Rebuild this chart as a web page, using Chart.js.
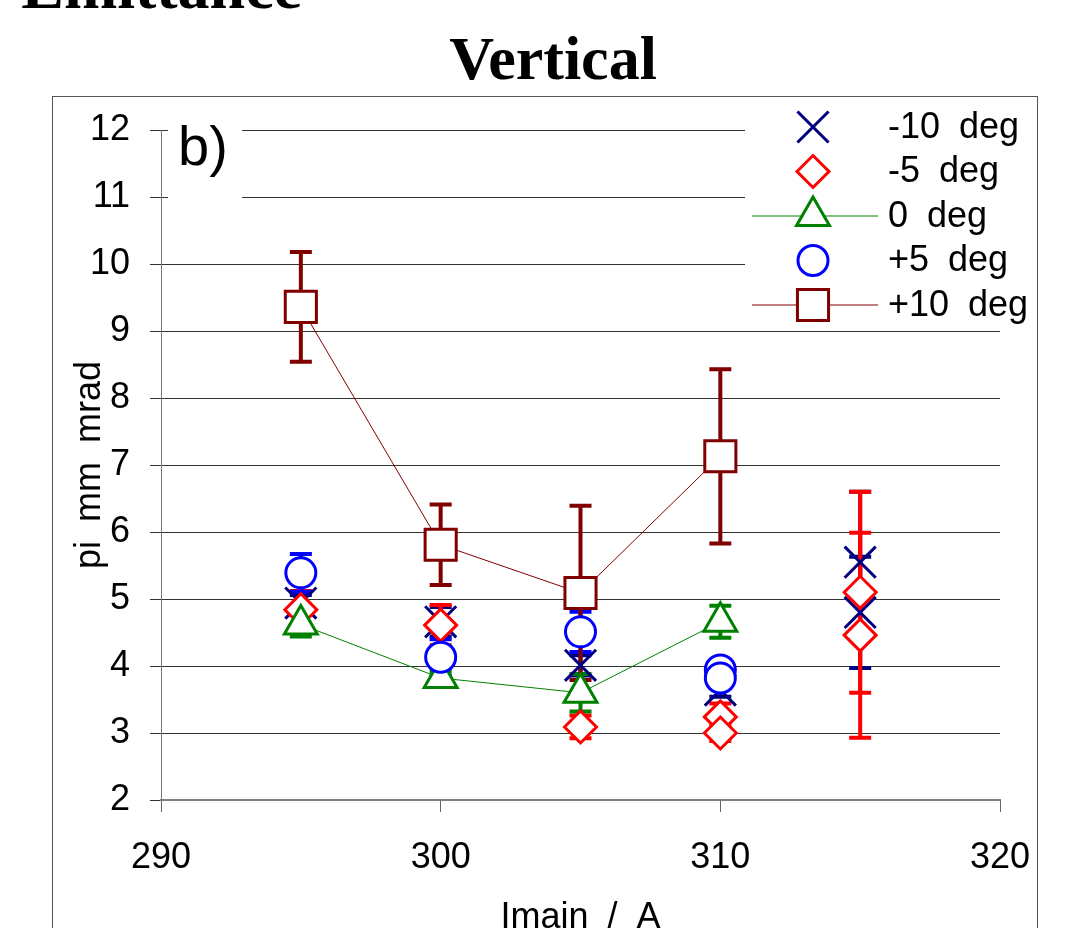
<!DOCTYPE html>
<html>
<head>
<meta charset="utf-8">
<title>Vertical</title>
<script src="https://cdn.jsdelivr.net/npm/chart.js@4.4.1/dist/chart.umd.min.js"></script>
<style>
  html, body { margin: 0; padding: 0; background: #fff; }
  #wrap { width: 1082px; height: 928px; }
</style>
</head>
<body>
<div id="wrap"><canvas id="chart" width="1082" height="928"></canvas></div>
<script>
/* Vertical emittance vs main coil current, one series per angle */

// -10 deg
var xM10 = [295, 300, 305, 310, 315, 315];
var yM10 = [4.94, 4.66, 4.01, 3.64, 5.55, 4.80];
var eM10 = [0.12, 0.22, 0.15, 0.10, 1.05, 0.83];

// -5 deg
var xM5 = [295, 300, 305, 310, 310, 315, 315];
var yM5 = [4.84, 4.61, 3.09, 3.24, 3.00, 5.10, 4.46];
var eM5 = [0.28, 0.30, 0.17, 0.20, 0.12, 1.50, 1.53];

// 0 deg
var x0 = [295, 300, 305, 310];
var y0 = [4.62, 3.82, 3.60, 4.66];
var e0 = [0.18, 0.10, 0.28, 0.24];

// +5 deg
var xP5 = [295, 300, 305, 310, 310];
var yP5 = [5.39, 4.13, 4.51, 3.94, 3.82];
var eP5 = [0.28, 0.27, 0.30, 0.10, 0.10];

// +10 deg
var xP10 = [295, 300, 305, 310];
var yP10 = [9.36, 5.81, 5.09, 7.13];
var eP10 = [0.82, 0.60, 1.30, 1.30];

var seriesLabels = ['-10 deg', '-5 deg', '0 deg', '+5 deg', '+10 deg'];

var FONT = 'Arial, "Liberation Sans", sans-serif';
var SERIF = '"Times New Roman", "Liberation Serif", serif';

function pts(xs, ys) {
  return xs.map(function(x, i) { return { x: x, y: ys[i] }; });
}

function makeSeries(label, xs, ys, errs, color, style, radius, line, order) {
  return {
    label: label,
    data: pts(xs, ys),
    errors: errs,
    borderColor: color,
    backgroundColor: '#FFFFFF',
    pointBorderColor: color,
    pointBackgroundColor: '#FFFFFF',
    pointStyle: style,
    pointRadius: radius,
    pointHoverRadius: radius,
    pointBorderWidth: 3,
    borderWidth: 1,
    showLine: line,
    order: order
  };
}

// white box behind "b)" so the top grid lines stop there
var labelBox = {
  id: 'labelBox',
  beforeDraw: function(chart) {
    chart.ctx.wordSpacing = '9px';
  },
  beforeDatasetsDraw: function(chart) {
    var ctx = chart.ctx;
    ctx.save();
    ctx.fillStyle = '#FFFFFF';
    ctx.fillRect(168, 108, 74, 100);
    ctx.fillStyle = '#000';
    ctx.font = '56px ' + FONT;
    ctx.textAlign = 'left';
    ctx.textBaseline = 'alphabetic';
    ctx.fillText('b)', 178, 165);
    ctx.restore();
  }
};

var errorBars = {
  id: 'errorBars',
  beforeDatasetsDraw: function(chart) {
    var ctx = chart.ctx, xs = chart.scales.x, ys = chart.scales.y;
    ctx.save();
    ctx.lineWidth = 4;
    ctx.lineCap = 'butt';
    chart.data.datasets.forEach(function(ds) {
      if (!ds.errors) return;
      ctx.strokeStyle = ds.borderColor;
      ds.data.forEach(function(p, i) {
        var e = ds.errors[i];
        var px = xs.getPixelForValue(p.x);
        var top = ys.getPixelForValue(p.y + e);
        var bot = ys.getPixelForValue(p.y - e);
        ctx.beginPath();
        ctx.moveTo(px, top); ctx.lineTo(px, bot);
        ctx.moveTo(px - 11, top); ctx.lineTo(px + 11, top);
        ctx.moveTo(px - 11, bot); ctx.lineTo(px + 11, bot);
        ctx.stroke();
      });
    });
    ctx.restore();
  }
};

var decor = {
  id: 'decor',
  afterDraw: function(chart) {
    var ctx = chart.ctx;
    ctx.save();

    // legend
    ctx.fillStyle = '#FFFFFF';
    ctx.fillRect(745, 106, 291, 220);
    chart.data.datasets.forEach(function(ds, i) {
      var y = 127 + i * 44.5;
      if (ds.showLine) {
        ctx.strokeStyle = ds.borderColor;
        ctx.lineWidth = 1;
        ctx.beginPath();
        ctx.moveTo(752, y); ctx.lineTo(878, y);
        ctx.stroke();
      }
      ctx.fillStyle = '#FFFFFF';
      ctx.strokeStyle = ds.borderColor;
      ctx.lineWidth = 3;
      Chart.helpers.drawPoint(ctx, {
        pointStyle: ds.pointStyle, radius: ds.pointRadius, borderWidth: 3, rotation: 0
      }, 813, y);
      ctx.fillStyle = '#000';
      ctx.font = '36px ' + FONT;
      ctx.textAlign = 'left';
      ctx.textBaseline = 'middle';
      ctx.fillText(ds.label, 888, y + 1);
    });

    // titles
    ctx.fillStyle = '#000';
    ctx.font = 'bold 62px ' + SERIF;
    ctx.textAlign = 'center';
    ctx.textBaseline = 'alphabetic';
    ctx.fillText('Vertical', 553, 79);
    ctx.font = 'bold 64px ' + SERIF;
    ctx.textAlign = 'right';
    ctx.fillText('Beam Emittance', 302, 8);

    // chart frame
    ctx.strokeStyle = '#555';
    ctx.lineWidth = 1;
    ctx.strokeRect(52.5, 96.5, 985, 900);
    ctx.restore();
  }
};

Chart.defaults.font.family = FONT;
Chart.defaults.color = '#000';

new Chart(document.getElementById('chart').getContext('2d'), {
  type: 'scatter',
  data: {
    datasets: [
      makeSeries(seriesLabels[0], xM10, yM10, eM10, '#000080', 'crossRot', 22, false, 4),
      makeSeries(seriesLabels[1], xM5, yM5, eM5, '#FF0000', 'rectRot', 16, false, 3),
      makeSeries(seriesLabels[2], x0, y0, e0, '#008000', 'triangle', 19, true, 2),
      makeSeries(seriesLabels[3], xP5, yP5, eP5, '#0000FF', 'circle', 15, false, 1),
      makeSeries(seriesLabels[4], xP10, yP10, eP10, '#800000', 'rect', 22, true, 0)
    ]
  },
  options: {
    responsive: false,
    animation: false,
    layout: { padding: { top: 130, right: 82, bottom: 0, left: 0 } },
    plugins: {
      legend: { display: false },
      tooltip: { enabled: false }
    },
    scales: {
      x: {
        type: 'linear', min: 290, max: 320,
        ticks: { stepSize: 10, font: { size: 36 }, color: '#000', padding: 24, maxRotation: 0 },
        grid: { drawOnChartArea: false, tickLength: 12, color: '#666' },
        border: { color: '#808080', width: 2 },
        title: { display: true, text: 'Imain / A', color: '#000', font: { size: 36, lineHeight: 1 }, padding: { top: 0, bottom: -8 } },
        afterFit: function(s) { s.height = 128; }
      },
      y: {
        min: 2, max: 12,
        ticks: { stepSize: 1, font: { size: 36 }, color: '#000', padding: 20 },
        grid: { color: '#333', tickLength: 11 },
        border: { color: '#777', width: 1 },
        title: { display: true, text: 'pi mm mrad', color: '#000', font: { size: 36, lineHeight: 1 }, padding: { top: 72, bottom: 0 } },
        afterFit: function(s) { s.width = 161; }
      }
    }
  },
  plugins: [labelBox, errorBars, decor]
});
</script>
</body>
</html>
